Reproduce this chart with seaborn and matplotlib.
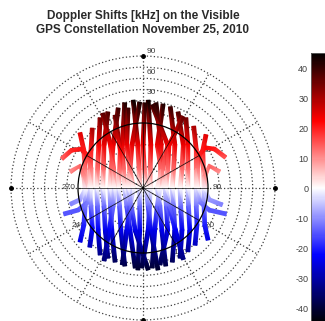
import numpy as np
import matplotlib.pyplot as plt
import seaborn as sns
from matplotlib.patches import Circle
from matplotlib.colors import Normalize
from matplotlib.cm import ScalarMappable

# satellite tracks: east / north in units of the horizon circle radius, doppler in kHz
track_east = [
    [-0.38, -0.46, -0.49, -0.51, -0.50, -0.48, -0.43],
    [-0.28, -0.32, -0.30, -0.28, -0.25, -0.20, -0.12],
    [-0.15, -0.08, -0.06, -0.05, -0.05, -0.05, -0.08],
    [-0.05, -0.17, -0.20, -0.23, -0.18, -0.12, 0.08],
    [0.08, 0.12, 0.11, 0.11, 0.10, 0.08, -0.02],
    [0.20, 0.28, 0.27, 0.26, 0.22, 0.18, 0.14],
    [0.31, 0.22, 0.28, 0.34, 0.36, 0.38, 0.26],
    [0.42, 0.49, 0.47, 0.45, 0.47, 0.49, 0.45],
    [0.54, 0.62, 0.60, 0.57, 0.58, 0.60, 0.57],
    [-0.54, -0.60, -0.61, -0.62, -0.60, -0.58, -0.54],
    [-0.66, -0.68, -0.70, -0.71, -0.70, -0.69, -0.66],
    [0.66, 0.69, 0.69, 0.69, 0.70, 0.72, 0.69],
    [0.78, 0.82, 0.82, 0.82, 0.82, 0.83, 0.80],
    [-0.78, -0.80, -0.81, -0.82, -0.80, -0.78, -0.82],
    [-0.43, -0.35, -0.36, -0.38, -0.36, -0.34, -0.28],
    [0.03, 0.00, 0.02, 0.05, 0.08, 0.12, 0.23],
    [-0.97, -0.91, -0.89, -0.88, -0.89, -0.91, -0.97],
    [0.97, 0.92, 0.93, 0.94, 0.94, 0.95, 1.00],
    [-0.23, -0.25, -0.20, -0.15, -0.20, -0.25, -0.32],
    [0.14, 0.38, 0.30, 0.22, 0.26, 0.29, 0.35],
    [0.62, 0.40, 0.38, 0.35, 0.40, 0.50, 0.62],
    [-0.62, -0.50, -0.45, -0.44, -0.46, -0.52, -0.60],
    [-1.25, -1.10, -0.95, -0.85, -0.80, -0.80, -0.85, -1.00, -1.22],
    [-1.12, -0.97, -0.91, -0.89, -0.97, -1.12],
    [1.27, 1.10, 0.96, 0.87, 0.84, 0.84, 0.88, 1.02, 1.28],
    [1.18, 1.02, 0.95, 0.95, 1.02, 1.22],
]
track_north = [
    [1.23, 0.66, 0.28, 0.00, -0.28, -0.65, -1.14],
    [1.31, 0.66, 0.28, 0.00, -0.28, -0.65, -1.23],
    [1.35, 0.66, 0.28, 0.00, -0.28, -0.65, -1.26],
    [1.32, 0.66, 0.28, 0.00, -0.28, -0.65, -1.26],
    [1.35, 0.66, 0.28, 0.00, -0.28, -0.65, -1.23],
    [1.31, 0.66, 0.28, 0.00, -0.28, -0.65, -1.23],
    [1.29, 0.66, 0.28, 0.00, -0.28, -0.65, -1.18],
    [1.25, 0.66, 0.28, 0.00, -0.28, -0.65, -1.14],
    [1.17, 0.66, 0.28, 0.00, -0.28, -0.65, -1.08],
    [1.17, 0.66, 0.28, 0.00, -0.28, -0.65, -1.08],
    [1.08, 0.66, 0.28, 0.00, -0.28, -0.65, -1.03],
    [1.08, 0.66, 0.28, 0.00, -0.28, -0.65, -0.98],
    [0.95, 0.58, 0.28, 0.00, -0.28, -0.57, -0.88],
    [0.92, 0.58, 0.28, 0.00, -0.28, -0.62, -0.91],
    [1.12, 0.58, 0.28, 0.00, -0.28, -0.65, -1.20],
    [1.31, 0.66, 0.28, 0.00, -0.28, -0.65, -1.26],
    [0.85, 0.58, 0.28, 0.00, -0.28, -0.57, -0.83],
    [0.82, 0.58, 0.28, 0.00, -0.28, -0.57, -0.80],
    [1.23, 0.66, 0.28, 0.00, -0.28, -0.65, -1.18],
    [1.28, 0.66, 0.28, 0.00, -0.28, -0.65, -1.20],
    [1.10, 0.66, 0.28, 0.00, -0.28, -0.65, -1.10],
    [1.15, 0.66, 0.28, 0.00, -0.28, -0.65, -1.12],
    [0.45, 0.58, 0.60, 0.50, 0.30, 0.00, -0.22, -0.34, -0.40],
    [0.25, 0.34, 0.18, -0.03, -0.18, -0.25],
    [0.47, 0.60, 0.62, 0.52, 0.30, 0.00, -0.22, -0.34, -0.40],
    [0.25, 0.34, 0.18, -0.03, -0.18, -0.26],
]
track_doppler = [
    [40, 24, 13, 0, -13, -24, -37],
    [42, 24, 13, 0, -13, -24, -40],
    [44, 24, 13, 0, -13, -24, -41],
    [43, 24, 13, 0, -13, -24, -41],
    [44, 24, 13, 0, -13, -24, -40],
    [42, 24, 13, 0, -13, -24, -40],
    [42, 24, 13, 0, -13, -24, -38],
    [40, 24, 13, 0, -13, -24, -37],
    [38, 24, 13, 0, -13, -24, -35],
    [38, 24, 13, 0, -13, -24, -35],
    [35, 23, 13, 0, -13, -23, -33],
    [35, 23, 13, 0, -13, -23, -32],
    [30, 20, 12, 0, -12, -20, -28],
    [30, 20, 12, 0, -12, -22, -29],
    [37, 22, 13, 0, -13, -24, -39],
    [42, 24, 13, 0, -13, -24, -41],
    [25, 20, 12, 0, -12, -20, -25],
    [25, 20, 12, 0, -12, -20, -25],
    [40, 24, 13, 0, -13, -24, -38],
    [41, 24, 13, 0, -13, -24, -39],
    [36, 23, 13, 0, -13, -23, -34],
    [37, 23, 13, 0, -13, -23, -35],
    [14, 19, 21, 19, 12, 0, -11, -15, -15],
    [10, 14, 10, -1, -9, -11],
    [15, 20, 22, 20, 12, 0, -11, -15, -15],
    [10, 14, 10, -1, -9, -11],
]

azimuth_labels = [0, 30, 60, 90, 120, 150, 180, 210, 240, 270, 300, 330]
elev_labels = ["90", "60", "30"]
cbar_ticks = [-40, -30, -20, -10, 0, 10, 20, 30, 40]
title = "Doppler Shifts [kHz] on the Visible\nGPS Constellation November 25, 2010"

sns.set_style("white")
plt.rcParams['font.family'] = ['Liberation Sans', 'DejaVu Sans']
plt.rcParams['axes.unicode_minus'] = False

cmap = sns.blend_palette(["#000000", "#0000ff", "#ffffff", "#ff0000", "#000000"], as_cmap=True)
vmin, vmax = -45, 45

fig = plt.figure(figsize=(3.25, 3.21), dpi=100)
ax = fig.add_axes([0, 0, 1, 1])
ax.set_xlim(-2.2, 2.8)
ax.set_ylim(-2.046, 2.892)
ax.axis('off')

grid_col = '0.25'
dots = (0, (1, 1.8))
R = 2.03
ring_step = (R - 1) / 6
for r in [1 / 3, 2 / 3] + [1 + k * ring_step for k in range(1, 7)]:
    ax.add_patch(Circle((0, 0), r, fill=False, ec=grid_col, lw=0.9, ls=dots, zorder=1))
for az in range(0, 360, 30):
    a = np.radians(az)
    ax.plot([0, R * np.sin(a)], [0, R * np.cos(a)], color=grid_col, lw=0.9, ls=dots, zorder=1)

# azimuth labels around the horizon circle
for az in azimuth_labels:
    a = np.radians(az)
    ax.text(1.14 * np.sin(a), 1.14 * np.cos(a), str(az), fontsize=6, color='0.25',
            ha='center', va='center', zorder=2)
for lab, rr in zip(elev_labels, [2.1, 1.78, 1.47]):
    ax.text(0.05, rr, lab, fontsize=6, color='0.25', ha='left', va='center', zorder=2)
ax.plot([R, -R, 0, 0], [0, 0, R, -R], 'o', color='black', ms=2.5, zorder=5)


def ribbon(xs, ys, cs, hw=0.029):
    pts = np.column_stack([xs, ys]).astype(float)
    d = np.gradient(pts, axis=0)
    d /= np.linalg.norm(d, axis=1)[:, None]
    nrm = np.column_stack([-d[:, 1], d[:, 0]])
    verts = np.vstack([pts + hw * nrm, pts - hw * nrm])
    n = len(pts)
    tris = []
    for i in range(n - 1):
        tris.append([i, i + 1, n + i])
        tris.append([i + 1, n + i + 1, n + i])
    vals = np.concatenate([cs, cs]).astype(float)
    ax.tripcolor(verts[:, 0], verts[:, 1], tris, vals, shading='gouraud',
                 cmap=cmap, vmin=vmin, vmax=vmax, zorder=3)


for e, n, d in zip(track_east, track_north, track_doppler):
    ribbon(e, n, d)

# solid horizon circle and spokes on top
ax.add_patch(Circle((0, 0), 1, fill=False, ec='black', lw=0.9, zorder=4))
for az in range(0, 360, 30):
    a = np.radians(az)
    ax.plot([0, np.sin(a)], [0, np.cos(a)], color='black', lw=0.6, alpha=0.8, zorder=4)

fig.text(0.44, 0.928, title, ha='center', va='center', fontsize=8.5, fontweight='bold',
         color='#2a2a2a', linespacing=1.3)

cax = fig.add_axes([311 / 325, -2 / 321, 0.06, 270 / 321])
cb = fig.colorbar(ScalarMappable(norm=Normalize(vmin, vmax), cmap=cmap), cax=cax)
cb.set_ticks(cbar_ticks)
cax.yaxis.set_ticks_position('left')
cax.yaxis.set_label_position('left')
cax.tick_params(direction='in', length=2, labelsize=6.5, labelcolor='0.25', pad=2)
cb.outline.set_linewidth(0.6)
cb.outline.set_edgecolor('0.4')

fig.savefig('out.png', dpi=100)
